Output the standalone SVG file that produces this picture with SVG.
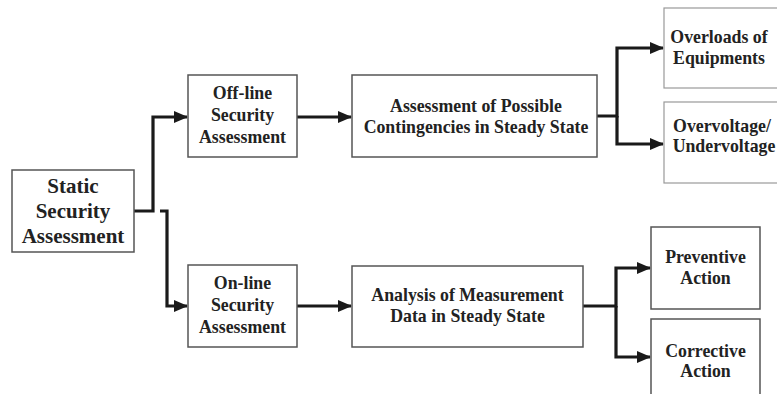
<svg xmlns="http://www.w3.org/2000/svg" width="777" height="394" viewBox="0 0 777 394">
<style>
.box{fill:#fff;stroke:#555;stroke-width:1.5}
.lbox{fill:#fff;stroke:#999;stroke-width:1.2}
.t{font-family:"Liberation Serif","Times New Roman",serif;font-weight:bold;font-size:17.8px;fill:#222;text-anchor:middle}
.big{font-size:21px}
.c{fill:none;stroke:#1a1a1a;stroke-width:3.2}
</style>
<defs>
<marker id="ah" markerWidth="14" markerHeight="12" refX="13" refY="6" orient="auto" markerUnits="userSpaceOnUse">
<path d="M0,0 L14,6 L0,12 Z" fill="#1a1a1a"/>
</marker>
</defs>
<rect width="777" height="394" fill="#fff"/>
<g id="connectors">
<path class="c" d="M134,211 H153 V117 H187" marker-end="url(#ah)"/>
<path class="c" d="M160,211 H167 V306 H187" marker-end="url(#ah)"/>
<path class="c" d="M297,117 H351" marker-end="url(#ah)"/>
<path class="c" d="M297,306 H351" marker-end="url(#ah)"/>
<path class="c" d="M597,116 H617 V48 H663" marker-end="url(#ah)"/>
<path class="c" d="M617,116 V144 H663" marker-end="url(#ah)"/>
<path class="c" d="M583,306 H616 V268 H650" marker-end="url(#ah)"/>
<path class="c" d="M616,306 V357 H650" marker-end="url(#ah)"/>
</g>
<g id="static">
<rect class="box" x="12" y="170" width="122" height="82"/>
<text class="t big" x="73" y="193">Static</text>
<text class="t big" x="73" y="218">Security</text>
<text class="t big" x="73" y="243">Assessment</text>
</g>
<g id="offline">
<rect class="box" x="188" y="75" width="109" height="82"/>
<text class="t" x="242.5" y="99">Off-line</text>
<text class="t" x="242.5" y="121">Security</text>
<text class="t" x="242.5" y="143">Assessment</text>
</g>
<g id="online">
<rect class="box" x="188" y="265" width="109" height="82"/>
<text class="t" x="242.5" y="289">On-line</text>
<text class="t" x="242.5" y="311">Security</text>
<text class="t" x="242.5" y="333">Assessment</text>
</g>
<g id="contingencies">
<rect class="box" x="352" y="75" width="245" height="82"/>
<text class="t" x="476" y="112">Assessment of Possible</text>
<text class="t" x="476" y="133">Contingencies in Steady State</text>
</g>
<g id="measurement">
<rect class="box" x="352" y="266" width="231" height="81"/>
<text class="t" x="467.5" y="301">Analysis of Measurement</text>
<text class="t" x="467.5" y="322">Data in Steady State</text>
</g>
<g id="overloads">
<rect class="lbox" x="664" y="8" width="130" height="80"/>
<text class="t" x="719" y="43">Overloads of</text>
<text class="t" x="719" y="64">Equipments</text>
</g>
<g id="overvoltage">
<rect class="lbox" x="664" y="102" width="130" height="81"/>
<text class="t" x="722" y="132">Overvoltage/</text>
<text class="t" x="724" y="152">Undervoltage</text>
</g>
<g id="preventive">
<rect class="box" x="651" y="227" width="109" height="82"/>
<text class="t" x="705.5" y="263">Preventive</text>
<text class="t" x="705.5" y="284">Action</text>
</g>
<g id="corrective">
<rect class="box" x="651" y="319" width="109" height="90"/>
<text class="t" x="705.5" y="357">Corrective</text>
<text class="t" x="705.5" y="377">Action</text>
</g>
</svg>
